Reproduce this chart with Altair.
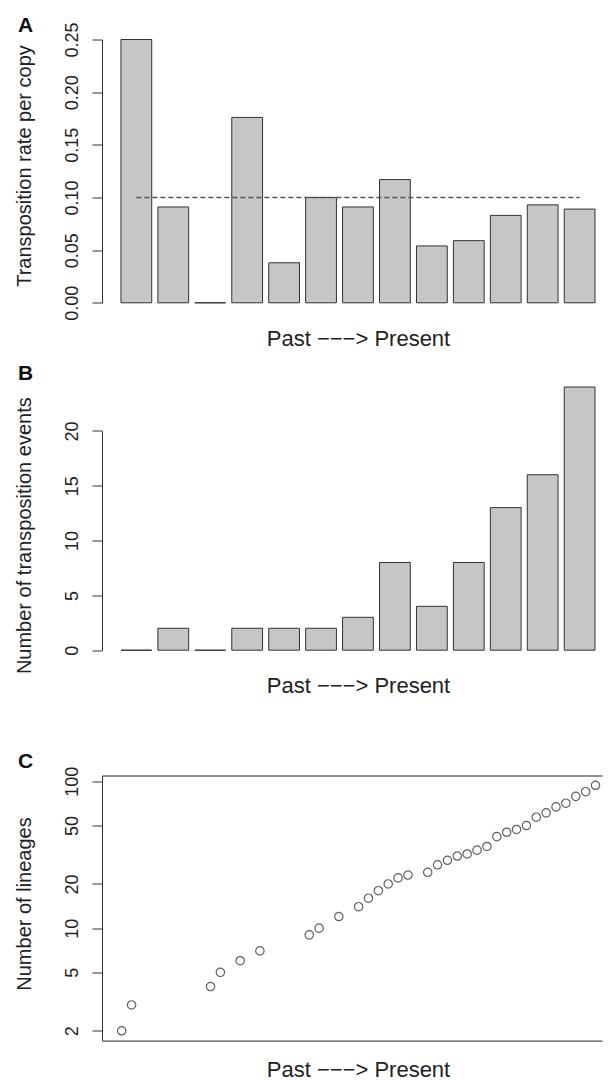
import altair as alt
import pandas as pd

# ---- data ----
bins = list(range(1, 14))
rates = [0.25, 0.091, 0.0, 0.176, 0.038, 0.100, 0.091, 0.117, 0.054, 0.059, 0.083, 0.093, 0.089]
events = [0, 2, 0, 2, 2, 2, 3, 8, 4, 8, 13, 16, 24]
mean_rate = [0.1]
lineage_time = [1, 2, 10, 11, 13, 15, 20, 21, 23, 25, 26, 27, 28, 29, 30,
                32, 33, 34, 35, 36, 37, 38, 39, 40, 41, 42, 43, 44, 45, 46, 47, 48, 49]
lineages = [2, 3, 4, 5, 6, 7, 9, 10, 12, 14, 16, 18, 20, 22, 23,
            24, 27, 29, 31, 32, 34, 36, 42, 45, 47, 50, 57, 61, 67, 71, 79, 85, 94]
rate_ticks = [0.0, 0.05, 0.10, 0.15, 0.20, 0.25]
event_ticks = [0, 5, 10, 15, 20]
lineage_ticks = [2, 5, 10, 20, 50, 100]
panel_letters = ["A", "B", "C"]
xlabel = "Past \u2212\u2212\u2212> Present"

FONT = "Liberation Sans"
INK = "#222222"
W = 500

dfA = pd.DataFrame({"bin": bins, "rate": rates})
dfRule = pd.DataFrame({"x": [bins[0]], "x2": [bins[-1]], "y": mean_rate})
dfB = pd.DataFrame({"bin": bins, "events": events})
dfC = pd.DataFrame({"t": lineage_time, "n": lineages})

# band layout like R's barplot (space = 0.2), plot region running past the right edge
band = alt.Scale(paddingInner=1 / 6, paddingOuter=0.351, align=0.7306)


def x_axis(title_y, domain=False, title=xlabel):
    return alt.Axis(domain=domain, domainColor=INK, ticks=False, labels=False,
                    grid=False, title=title, titleY=title_y, titleX=256,
                    titleFontSize=22, titleFontWeight="normal",
                    titleBaseline="alphabetic", titleAlign="center",
                    titleColor=INK, titleFont=FONT)


def y_axis(values, title, title_y, fmt=None):
    kw = dict(values=values, labelAngle=270, labelAlign="center",
              labelBaseline="alphabetic", labelPadding=15, tickSize=10,
              labelFontSize=18, labelFlush=False, labelOverlap=False,
              labelColor=INK, labelFont=FONT, domainColor="#333333",
              tickColor="#333333", grid=False, title=title, titleAngle=270,
              titleAlign="center", titleBaseline="alphabetic", titleX=-72,
              titleY=title_y, titleFontSize=20, titleFontWeight="normal",
              titleColor=INK, titleFont=FONT)
    if fmt:
        kw["format"] = fmt
    return alt.Axis(**kw)


def letter(ch):
    return alt.Chart(pd.DataFrame({"label": [ch]})).mark_text(
        align="left", baseline="alphabetic", fontSize=21, fontWeight="bold",
        font=FONT, color="#111111").encode(
        text=alt.Text("label:N"), x=alt.value(-84), y=alt.value(-8))


# ---- panel A ----
yA = alt.Scale(domain=[0, 0.25], range=[263.3, 0], nice=False, zero=True)
axA = y_axis(rate_ticks, "Transposition rate per copy", 126, ".2f")
barsA = alt.Chart(dfA).mark_bar(color="#c6c6c8", stroke="#333333",
                                strokeWidth=1, clip=False).encode(
    x=alt.X("bin:O", scale=band, axis=x_axis(-41.3)),
    y=alt.Y("rate:Q", scale=yA, axis=axA),
)
ruleA = alt.Chart(dfRule).mark_rule(color="#555555", strokeWidth=1.5,
                                    strokeDash=[5, 3]).encode(
    x=alt.X("x:O", bandPosition=0.5),
    x2=alt.X2("x2"),
    y=alt.Y("y:Q", axis=axA),
)
chartA = alt.layer(barsA, ruleA, letter(panel_letters[0])).properties(
    width=W, height=347.3)

# ---- panel B ----
yB = alt.Scale(domain=[0, 20], range=[262.7, 43.4], nice=False, zero=True)
barsB = alt.Chart(dfB).mark_bar(color="#c6c6c8", stroke="#333333",
                                strokeWidth=1, clip=False).encode(
    x=alt.X("bin:O", scale=band, axis=x_axis(-82.2)),
    y=alt.Y("events:Q", scale=yB,
            axis=y_axis(event_ticks, "Number of transposition events", 147.7)),
)
chartB = alt.layer(barsB, letter(panel_letters[1])).properties(
    width=W, height=387.6)

# ---- panel C ----
xC = alt.Scale(domain=[-0.996, 49.66], nice=False, zero=False)
yC = alt.Scale(type="log", domain=[1.714, 109.6], nice=False)
axC = y_axis(lineage_ticks, "Number of lineages", 128, "d")
pointsC = alt.Chart(dfC).mark_point(shape="circle", filled=False, size=70,
                                    color="#1e1e1e", strokeWidth=1.2).encode(
    x=alt.X("t:Q", scale=xC, axis=x_axis(36.3, domain=True)),
    y=alt.Y("n:Q", scale=yC, axis=axC),
)
frameC = alt.Chart(dfC).mark_point(opacity=0).encode(
    x=alt.X("t:Q", scale=xC,
            axis=alt.Axis(orient="top", domain=True, domainColor=INK,
                          ticks=False, labels=False, grid=False, title=None)),
    y=alt.Y("n:Q", scale=yC, axis=axC),
)
chartC = alt.layer(pointsC, frameC, letter(panel_letters[2])).resolve_axis(
    x="independent").properties(width=W, height=265.1)

chart = alt.vconcat(chartA, chartB, chartC, spacing=0, bounds="flush").properties(
    padding={"left": 5, "top": 5.5, "right": 0, "bottom": 0}
).configure(font=FONT).configure_view(stroke="transparent")

chart.save("out.html", embed_options={"renderer": "svg", "actions": False})
